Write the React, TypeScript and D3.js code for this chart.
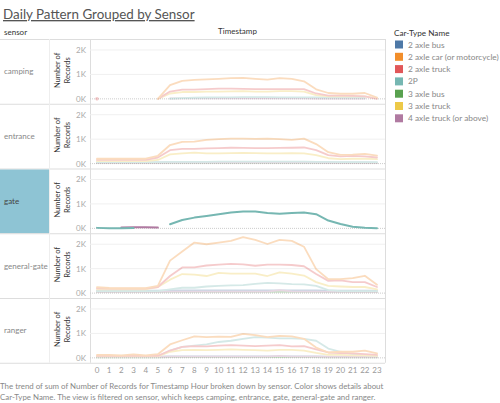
import React from "react";
import * as d3 from "d3";

const hours = d3.range(0, 24);
const xTickLabels = hours.map((h) => String(h));
const yTicks = [0, 1000, 2000];
const yTickLabels = ["0K", "1K", "2K"];
const sensors = ["camping", "entrance", "gate", "general-gate", "ranger"];
const selectedSensor = "gate";
const carTypes = [
  "2 axle bus",
  "2 axle car (or motorcycle)",
  "2 axle truck",
  "2P",
  "3 axle bus",
  "3 axle truck",
  "4 axle truck (or above)",
];
const carColors = ["#4e79a7", "#f28e2b", "#e15759", "#76b7b2", "#59a14f", "#edc948", "#b07aa1"];

type V = number | null;
const _ = null;

// camping
const campingBus: V[] = [_, _, _, _, _, _, _, _, _, _, _, _, _, _, _, _, _, _, _, _, _, _, _, _];
const campingCar: V[] = [_, _, _, _, _, 0, 560, 740, 780, 800, 820, 850, 860, 820, 790, 850, 820, 720, 390, 240, 210, 210, 240, 50];
const campingTruck2: V[] = [0, _, _, _, _, 0, 300, 380, 380, 400, 420, 420, 410, 400, 400, 400, 400, 400, 220, 130, 130, 120, 100, 0];
const campingP2: V[] = [_, _, _, _, _, _, 10, 30, 45, 55, 60, 65, 70, 70, 70, 65, 65, 65, 60, 55, 50, 50, 50, _];
const campingBus3: V[] = [_, _, _, _, _, _, _, _, _, _, _, _, _, _, _, _, _, _, _, _, _, _, _, _];
const campingTruck3: V[] = [_, _, _, _, _, 0, 220, 280, 280, 300, 300, 310, 320, 300, 300, 320, 320, 300, 150, 100, 100, 100, 100, 20];
const campingTruck4: V[] = [_, _, _, _, _, _, 15, 20, 20, 20, 20, 20, 20, 20, 20, 20, 20, 20, 15, 10, 10, 10, 10, _];

// entrance
const entranceBus: V[] = [40, 40, 40, 40, 40, 45, 60, 65, 65, 65, 65, 65, 65, 65, 65, 65, 65, 65, 60, 50, 45, 45, 45, 40];
const entranceCar: V[] = [200, 200, 200, 200, 200, 320, 760, 890, 900, 970, 1000, 1020, 1020, 1010, 1020, 1000, 970, 1020, 800, 470, 360, 370, 400, 330];
const entranceTruck2: V[] = [150, 150, 150, 150, 150, 250, 550, 600, 600, 620, 630, 650, 640, 630, 630, 640, 650, 660, 550, 350, 300, 320, 300, 250];
const entranceP2: V[] = [60, 60, 60, 60, 60, 60, 70, 75, 75, 75, 80, 80, 80, 80, 80, 80, 80, 80, 75, 70, 65, 65, 65, 60];
const entranceBus3: V[] = [20, 20, 20, 20, 20, 20, 30, 30, 30, 30, 30, 30, 30, 30, 30, 30, 30, 30, 30, 25, 20, 20, 20, 20];
const entranceTruck3: V[] = [100, 100, 100, 100, 100, 150, 380, 420, 450, 420, 420, 430, 440, 430, 420, 420, 430, 420, 350, 220, 180, 200, 200, 180];
const entranceTruck4: V[] = [30, 30, 30, 30, 30, 30, 40, 45, 45, 45, 45, 45, 45, 45, 45, 45, 45, 45, 40, 35, 30, 30, 30, 30];

// gate
const gateBus: V[] = [_, _, _, _, _, _, _, _, _, _, _, _, _, _, _, _, _, _, _, _, _, _, _, _];
const gateCar: V[] = [_, _, _, _, _, _, _, _, _, _, _, _, _, _, _, _, _, _, _, _, _, _, _, _];
const gateTruck2: V[] = [_, _, _, _, _, _, _, _, _, _, _, _, _, _, _, _, _, _, _, _, _, _, _, _];
const gateP2: V[] = [20, 5, 5, 10, _, _, 170, 340, 440, 510, 580, 650, 690, 690, 630, 600, 630, 650, 580, 320, 180, 70, 30, 5];
const gateBus3: V[] = [_, _, _, _, _, _, _, _, _, _, _, _, _, _, _, _, _, _, _, _, _, _, _, _];
const gateTruck3: V[] = [_, _, _, _, _, _, _, _, _, _, _, _, _, _, _, _, _, _, _, _, _, _, _, _];
const gateTruck4: V[] = [_, _, 40, 45, 45, 35, _, _, _, _, _, _, _, _, _, _, _, _, _, _, _, _, _, _];

// general-gate
const generalBus: V[] = [100, 100, 100, 100, 100, 100, 110, 110, 110, 110, 110, 110, 110, 110, 110, 110, 110, 110, 110, 100, 100, 100, 100, 100];
const generalCar: V[] = [240, 210, 200, 200, 200, 300, 1330, 1700, 2070, 2000, 2070, 2140, 2290, 2180, 2010, 2180, 2140, 1900, 980, 570, 570, 610, 710, 340];
const generalTruck2: V[] = [200, 180, 180, 180, 180, 250, 700, 1050, 1050, 1130, 1170, 1200, 1180, 1120, 1170, 1170, 1150, 1100, 780, 500, 520, 450, 450, 250];
const generalP2: V[] = [80, 80, 80, 80, 80, 80, 150, 220, 220, 270, 300, 320, 330, 380, 420, 400, 370, 360, 300, 120, 80, 80, 80, 80];
const generalBus3: V[] = [40, 40, 40, 40, 40, 40, 50, 50, 50, 50, 50, 50, 50, 50, 50, 50, 50, 50, 50, 40, 40, 40, 40, 40];
const generalTruck3: V[] = [150, 150, 150, 150, 150, 250, 550, 780, 760, 700, 830, 800, 800, 800, 700, 850, 800, 720, 450, 300, 270, 250, 250, 150];
const generalTruck4: V[] = [50, 50, 50, 50, 50, 50, 60, 60, 60, 60, 60, 60, 60, 60, 60, 120, 70, 60, 60, 50, 50, 50, 50, 50];

// ranger
const rangerBus: V[] = [50, 50, 50, 50, 50, 50, 60, 60, 60, 60, 60, 60, 60, 60, 60, 60, 60, 60, 60, 50, 50, 50, 50, 50];
const rangerCar: V[] = [120, 120, 100, 140, 100, 150, 550, 720, 880, 850, 870, 860, 980, 930, 850, 900, 880, 780, 420, 220, 250, 250, 300, 180];
const rangerTruck2: V[] = [80, 80, 80, 80, 80, 80, 300, 450, 480, 470, 500, 520, 500, 480, 500, 520, 470, 480, 350, 220, 200, 180, 150, 120];
const rangerP2: V[] = [50, 50, 50, 50, 50, 50, 300, 450, 500, 550, 650, 700, 780, 850, 830, 800, 800, 780, 700, 380, 250, 150, 100, 80];
const rangerBus3: V[] = [20, 20, 20, 20, 20, 20, 30, 30, 30, 30, 30, 30, 30, 30, 30, 30, 30, 30, 30, 25, 20, 20, 20, 20];
const rangerTruck3: V[] = [60, 60, 60, 60, 60, 60, 250, 320, 330, 320, 330, 350, 330, 320, 300, 330, 330, 300, 200, 120, 120, 100, 100, 80];
const rangerTruck4: V[] = [40, 40, 40, 40, 40, 40, 50, 50, 50, 50, 50, 50, 50, 50, 50, 80, 50, 50, 50, 40, 40, 40, 40, 40];

const sensorSeries: V[][][] = [
  [campingBus, campingCar, campingTruck2, campingP2, campingBus3, campingTruck3, campingTruck4],
  [entranceBus, entranceCar, entranceTruck2, entranceP2, entranceBus3, entranceTruck3, entranceTruck4],
  [gateBus, gateCar, gateTruck2, gateP2, gateBus3, gateTruck3, gateTruck4],
  [generalBus, generalCar, generalTruck2, generalP2, generalBus3, generalTruck3, generalTruck4],
  [rangerBus, rangerCar, rangerTruck2, rangerP2, rangerBus3, rangerTruck3, rangerTruck4],
];

const drawOrder = [0, 4, 6, 3, 5, 2, 1];

const FONT = "Lato, 'Open Sans', sans-serif";

export default function App() {
  const W = 500;
  const H = 403;
  const plotL = 90;
  const plotR = 385;
  const top0 = 39;
  const panelH = 64.75;
  const x = d3.scaleLinear().domain([0, 23]).range([97, 377]);

  const panels = sensors.map((s, i) => {
    const t = top0 + i * panelH;
    const y = d3.scaleLinear().domain([-200, 2450]).range([t + panelH, t]);
    return { s, i, t, y };
  });
  const bottom = top0 + sensors.length * panelH;

  return (
    <svg
      width={W}
      height={H}
      style={{ position: "absolute", left: 0, top: 0, background: "#fff" }}
      fontFamily={FONT}
    >
      {/* Title */}
      <text x={3} y={19} fontSize={13.4} fill="#555" textDecoration="underline">
        Daily Pattern Grouped by Sensor
      </text>
      {/* headers */}
      <text x={4} y={35} fontSize={8} fill="#333">sensor</text>
      <text x={(plotL + plotR) / 2} y={34} fontSize={8} fill="#333" textAnchor="middle">Timestamp</text>
      <line x1={0} x2={plotR} y1={top0 + 0.5} y2={top0 + 0.5} stroke="#ddd" />
      <line x1={plotL + 0.5} x2={plotL + 0.5} y1={top0} y2={bottom} stroke="#ddd" />
      <line x1={plotR + 0.5} x2={plotR + 0.5} y1={top0} y2={bottom} stroke="#ddd" />

      {panels.map(({ s, i, t, y }) => {
        const selected = s === selectedSensor;
        const line = d3
          .line<V>()
          .defined((d) => d !== null)
          .x((_d, k) => x(hours[k]))
          .y((d) => y(d as number));
        return (
          <g key={s}>
            {selected && <rect x={0} y={t + 1} width={49.5} height={panelH - 1} fill="#8ec4d4" />}
            <text x={4} y={t + panelH / 2 + 3} fontSize={8} fill={selected ? "#444" : "#888"}>
              {s}
            </text>
            {/* grid */}
            {yTicks.map((v, k) => (
              <g key={v}>
                <line
                  x1={plotL}
                  x2={plotR}
                  y1={y(v)}
                  y2={y(v)}
                  stroke={v === 0 ? "#ccc" : "#f0f0f0"}
                  strokeDasharray={v === 0 ? "1,1" : undefined}
                />
                <text x={86} y={y(v) + 3} fontSize={8} fill="#aaa" textAnchor="end">
                  {yTickLabels[k]}
                </text>
              </g>
            ))}
            <text
              transform={`translate(${60},${t + panelH / 2 - 1}) rotate(-90)`}
              fontSize={7.5}
              fill="#333"
              textAnchor="middle"
            >
              Number of
            </text>
            <text
              transform={`translate(${70},${t + panelH / 2 - 1}) rotate(-90)`}
              fontSize={7.5}
              fill="#333"
              textAnchor="middle"
            >
              Records
            </text>
            <g opacity={selected ? 1 : 0.3}>
              {drawOrder.map((ci) => {
                const vals = sensorSeries[i][ci];
                const iso = vals
                  .map((v, k) => ({ v, k }))
                  .filter(
                    ({ v, k }) =>
                      v !== null && (k === 0 || vals[k - 1] === null) && (k === 23 || vals[k + 1] === null)
                  );
                return (
                  <g key={ci}>
                    <path d={line(vals) || ""} fill="none" stroke={carColors[ci]} strokeWidth={selected ? 2 : 1.8} strokeLinejoin="round" strokeLinecap="round" />
                    {iso.map(({ v, k }) => (
                      <circle key={k} cx={x(hours[k])} cy={y(v as number)} r={1.8} fill={carColors[ci]} />
                    ))}
                  </g>
                );
              })}
            </g>
            <line x1={0} x2={plotR} y1={t + panelH + 0.5} y2={t + panelH + 0.5} stroke="#ddd" />
          </g>
        );
      })}
      <line x1={49.5} x2={49.5} y1={top0} y2={bottom} stroke="#eee" />

      {/* x axis */}
      {hours.map((h, k) => (
        <text key={h} x={x(h)} y={373} fontSize={8} fill="#999" textAnchor="middle">
          {xTickLabels[k]}
        </text>
      ))}

      {/* caption */}
      <text x={0} y={389} fontSize={7.9} fill="#888">
        The trend of sum of Number of Records for Timestamp Hour broken down by sensor.  Color shows details about
      </text>
      <text x={0} y={400} fontSize={7.9} fill="#888">
        Car-Type Name. The view is filtered on sensor, which keeps camping, entrance, gate, general-gate and ranger.
      </text>

      {/* legend */}
      <text x={394} y={36} fontSize={8.2} fill="#333">Car-Type Name</text>
      {carTypes.map((c, k) => (
        <g key={c}>
          <rect x={395} y={40.5 + k * 12.3} width={8} height={8} fill={carColors[k]} />
          <text x={408} y={47.5 + k * 12.3} fontSize={8.3} fill="#888">{c}</text>
        </g>
      ))}
    </svg>
  );
}
